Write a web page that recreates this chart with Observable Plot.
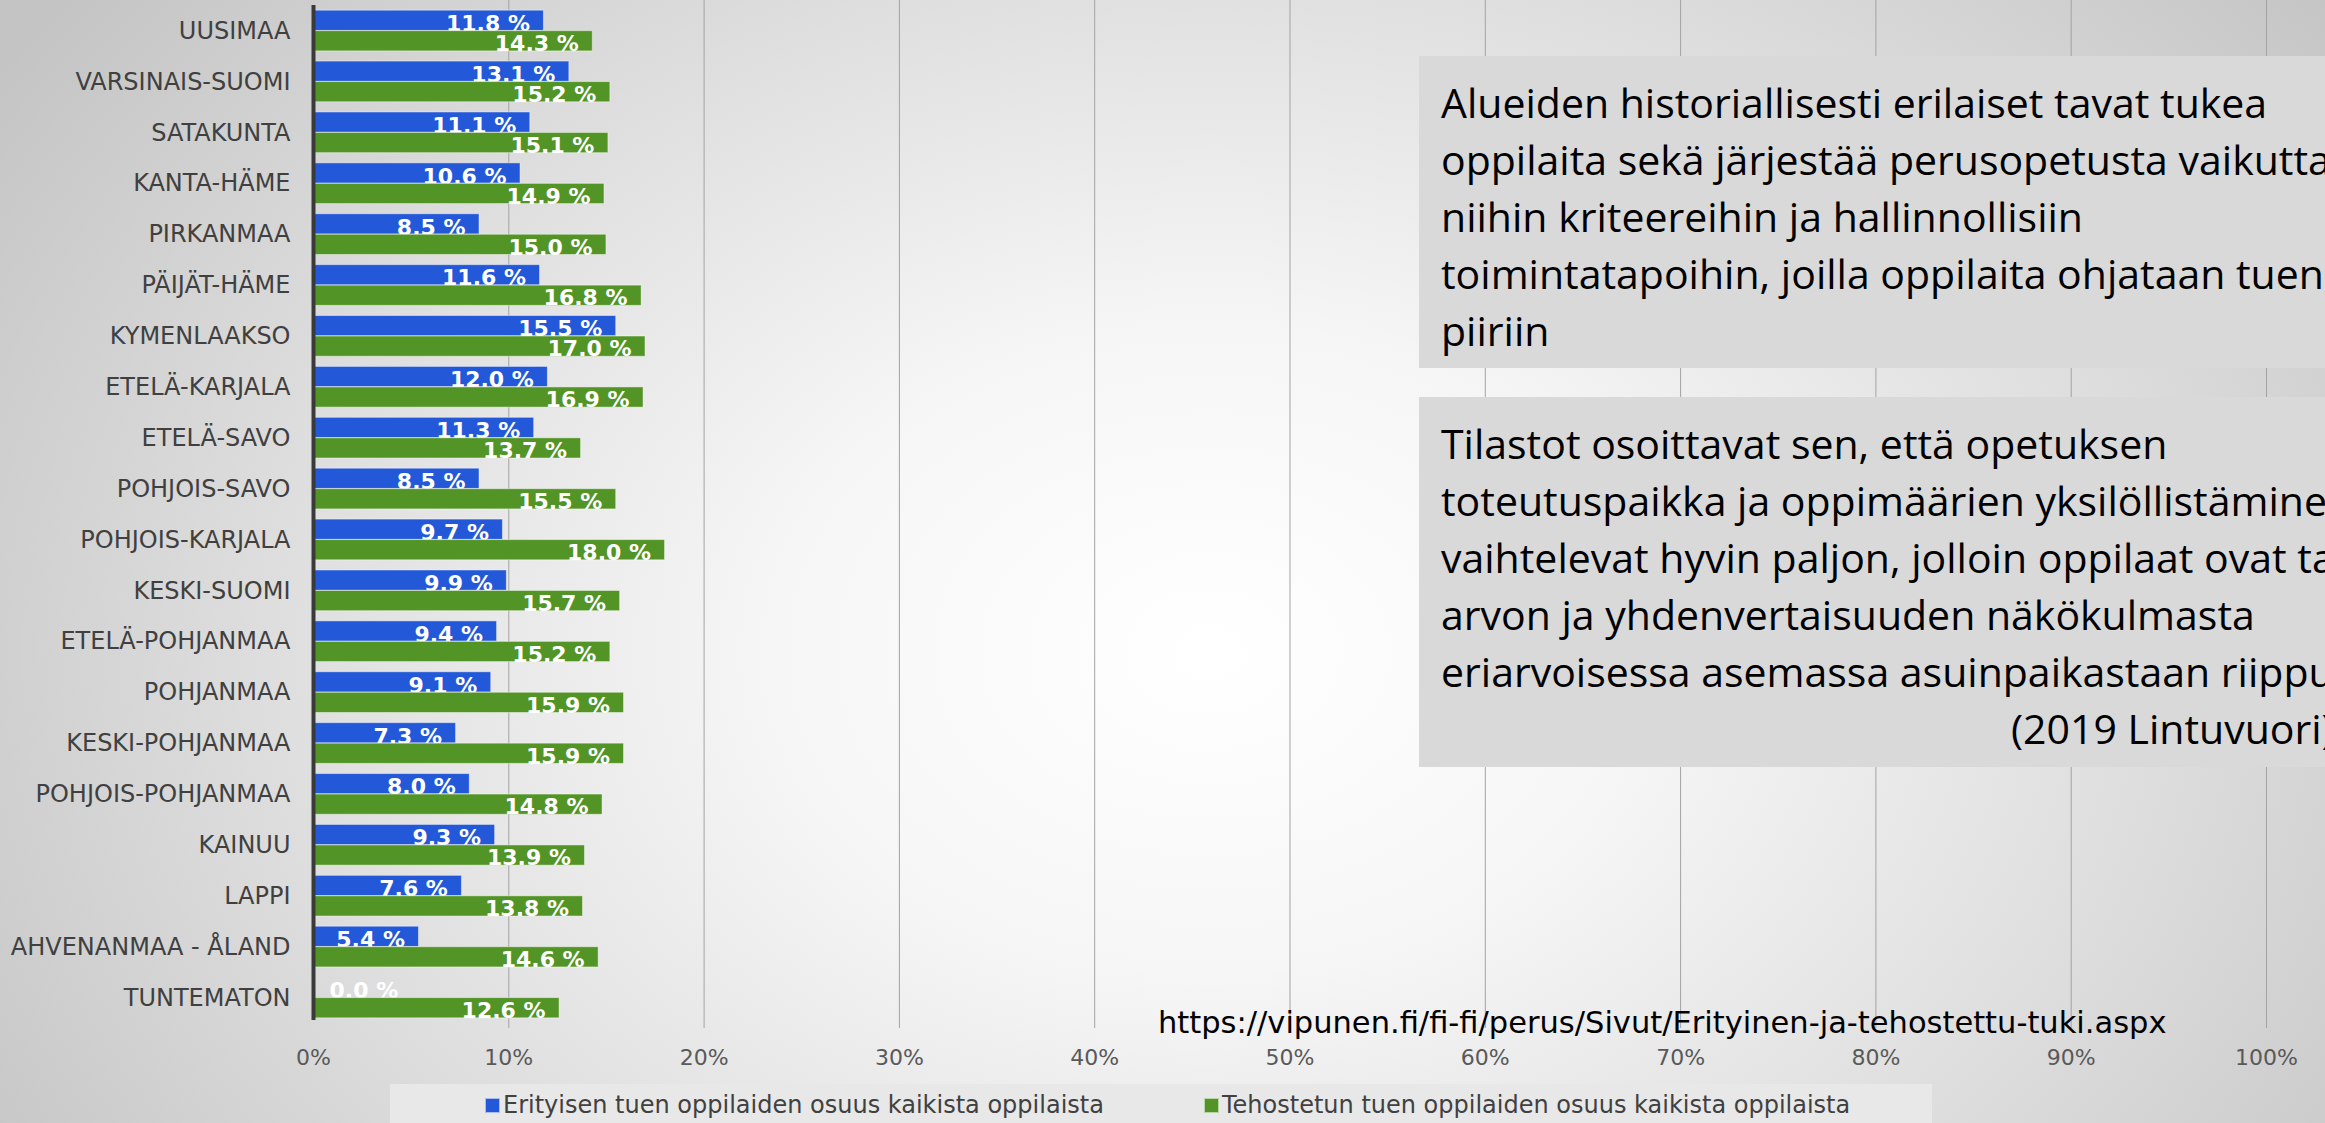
<!DOCTYPE html>
<html>
<head>
<meta charset="utf-8">
<script src="https://cdn.jsdelivr.net/npm/d3@7"></script>
<script src="https://cdn.jsdelivr.net/npm/@observablehq/plot@0.6"></script>
<style>
  html, body { margin: 0; padding: 0; }
  #page {
    position: relative; width: 2325px; height: 1123px; overflow: hidden;
    background: radial-gradient(ellipse 62% 95% at 52% 58%, #ffffff 0%, #f6f6f6 30%, #dedede 65%, #c4c4c4 100%);
    font-family: "DejaVu Sans", sans-serif;
  }
  #chart { position: absolute; left: 0; top: 0; }
  .box {
    position: absolute; left: 1419px; width: 1100px; box-sizing: border-box;
    background: #d9d9d9; color: #000; white-space: nowrap;
    font-family: "Open Sans", sans-serif; font-size: 41px; line-height: 57px;
    padding: 18px 0 0 22px;
  }
  #box1 { top: 56px; height: 312px; }
  #box2 { top: 397px; height: 370px; }
  #url {
    position: absolute; left: 1158px; top: 1004px; font-size: 30.5px; color: #000;
    white-space: nowrap; line-height: 38px;
  }
  #legend {
    position: absolute; left: 390px; top: 1084px; width: 1542px; height: 60px;
    background: #e8e8e8;
  }
  .item { position: absolute; top: 6px; font-size: 24px; color: #404040; line-height: 30px; white-space: nowrap; }
  .sw { display: inline-block; width: 13px; height: 13px; margin-right: 3px; vertical-align: 0px; border: 1px solid rgba(255,255,255,0.6); }
</style>
</head>
<body>
<div id="page">
  <div id="chart"></div>
  <div class="box" id="box1"></div>
  <div class="box" id="box2"></div>
  <div id="url"></div>
  <div id="legend"></div>
</div>
<script>
const regions = ["UUSIMAA","VARSINAIS-SUOMI","SATAKUNTA","KANTA-HÄME","PIRKANMAA","PÄIJÄT-HÄME","KYMENLAAKSO","ETELÄ-KARJALA","ETELÄ-SAVO","POHJOIS-SAVO","POHJOIS-KARJALA","KESKI-SUOMI","ETELÄ-POHJANMAA","POHJANMAA","KESKI-POHJANMAA","POHJOIS-POHJANMAA","KAINUU","LAPPI","AHVENANMAA - ÅLAND","TUNTEMATON"];
const erityinen = [11.8,13.1,11.1,10.6,8.5,11.6,15.5,12.0,11.3,8.5,9.7,9.9,9.4,9.1,7.3,8.0,9.3,7.6,5.4,0.0];
const tehostettu = [14.3,15.2,15.1,14.9,15.0,16.8,17.0,16.9,13.7,15.5,18.0,15.7,15.2,15.9,15.9,14.8,13.9,13.8,14.6,12.6];
const xTicks = [0,10,20,30,40,50,60,70,80,90,100];
const seriesNames = ["Erityisen tuen oppilaiden osuus kaikista oppilaista","Tehostetun tuen oppilaiden osuus kaikista oppilaista"];
const seriesColors = ["#2358d8","#529425"];
const box1Lines = ["Alueiden historiallisesti erilaiset tavat tukea","oppilaita sekä järjestää perusopetusta vaikuttavat","niihin kriteereihin ja hallinnollisiin","toimintatapoihin, joilla oppilaita ohjataan tuen","piiriin"];
const box2Lines = ["Tilastot osoittavat sen, että opetuksen","toteutuspaikka ja oppimäärien yksilöllistäminen","vaihtelevat hyvin paljon, jolloin oppilaat ovat tasa-","arvon ja yhdenvertaisuuden näkökulmasta","eriarvoisessa asemassa asuinpaikastaan riippuen."];
const box2Cite = "(2019 Lintuvuori)";
const sourceUrl = "https://vipunen.fi/fi-fi/perus/Sivut/Erityinen-ja-tehostettu-tuki.aspx";

const data = regions.map((r, i) => ({region: r, e: erityinen[i], t: tehostettu[i]}));
const fmt = v => v.toFixed(1) + " %";
const labelFont = {fontFamily: "DejaVu Sans", fontSize: 22, fontWeight: "bold", fill: "white"};

const chart = Plot.plot({
  width: 2325,
  height: 1090,
  marginLeft: 313,
  marginRight: 59,
  marginTop: 0,
  marginBottom: 62,
  style: {background: "transparent", fontFamily: "DejaVu Sans"},
  x: {domain: [0, 100]},
  y: {domain: regions, padding: 0.2, round: false},
  marks: [
    Plot.gridX(xTicks.slice(1), {stroke: "#a3a3a3", strokeOpacity: 1, strokeWidth: 1}),
    Plot.axisX({ticks: xTicks, tickFormat: d => d + "%", tickSize: 0, tickPadding: 21, fontSize: 22, fill: "#595959", label: null}),
    Plot.axisY({tickSize: 0, tickPadding: 23, fontSize: 24, fill: "#404040", label: null}),
    Plot.barX(data, {x: "e", y: "region", fill: seriesColors[0], insetBottom: 20.5, stroke: "#ffffff", strokeOpacity: 0.45, strokeWidth: 1}),
    Plot.text(data.filter(d => d.e > 0), {x: "e", y: "region", text: d => fmt(d.e), textAnchor: "end", lineAnchor: "bottom", dx: -14, dy: 0, ...labelFont}),
    Plot.text(data.filter(d => d.e === 0), {x: "e", y: "region", text: d => fmt(d.e), textAnchor: "start", lineAnchor: "bottom", dx: 16, dy: 0, ...labelFont}),
    Plot.barX(data, {x: "t", y: "region", fill: seriesColors[1], insetTop: 20.5, stroke: "#ffffff", strokeOpacity: 0.45, strokeWidth: 1}),
    Plot.text(data, {x: "t", y: "region", text: d => fmt(d.t), textAnchor: "end", lineAnchor: "bottom", dx: -14, dy: 20, ...labelFont}),
    Plot.ruleX([0], {stroke: "#3a3a3a", strokeWidth: 4, insetTop: 5, insetBottom: 8})
  ]
});
document.getElementById("chart").appendChild(chart);

const b1 = document.getElementById("box1");
box1Lines.forEach(t => { const d = document.createElement("div"); d.textContent = t; b1.appendChild(d); });
const b2 = document.getElementById("box2");
box2Lines.forEach(t => { const d = document.createElement("div"); d.textContent = t; b2.appendChild(d); });
const cite = document.createElement("div"); cite.textContent = box2Cite; cite.style.paddingLeft = "570px"; b2.appendChild(cite);

document.getElementById("url").textContent = sourceUrl;

const legend = document.getElementById("legend");
const legendX = [95, 814];
seriesNames.forEach((n, i) => {
  const it = document.createElement("div");
  it.className = "item";
  it.style.left = legendX[i] + "px";
  const sw = document.createElement("span");
  sw.className = "sw";
  sw.style.background = seriesColors[i];
  it.appendChild(sw);
  it.appendChild(document.createTextNode(n));
  legend.appendChild(it);
});
</script>
</body>
</html>
